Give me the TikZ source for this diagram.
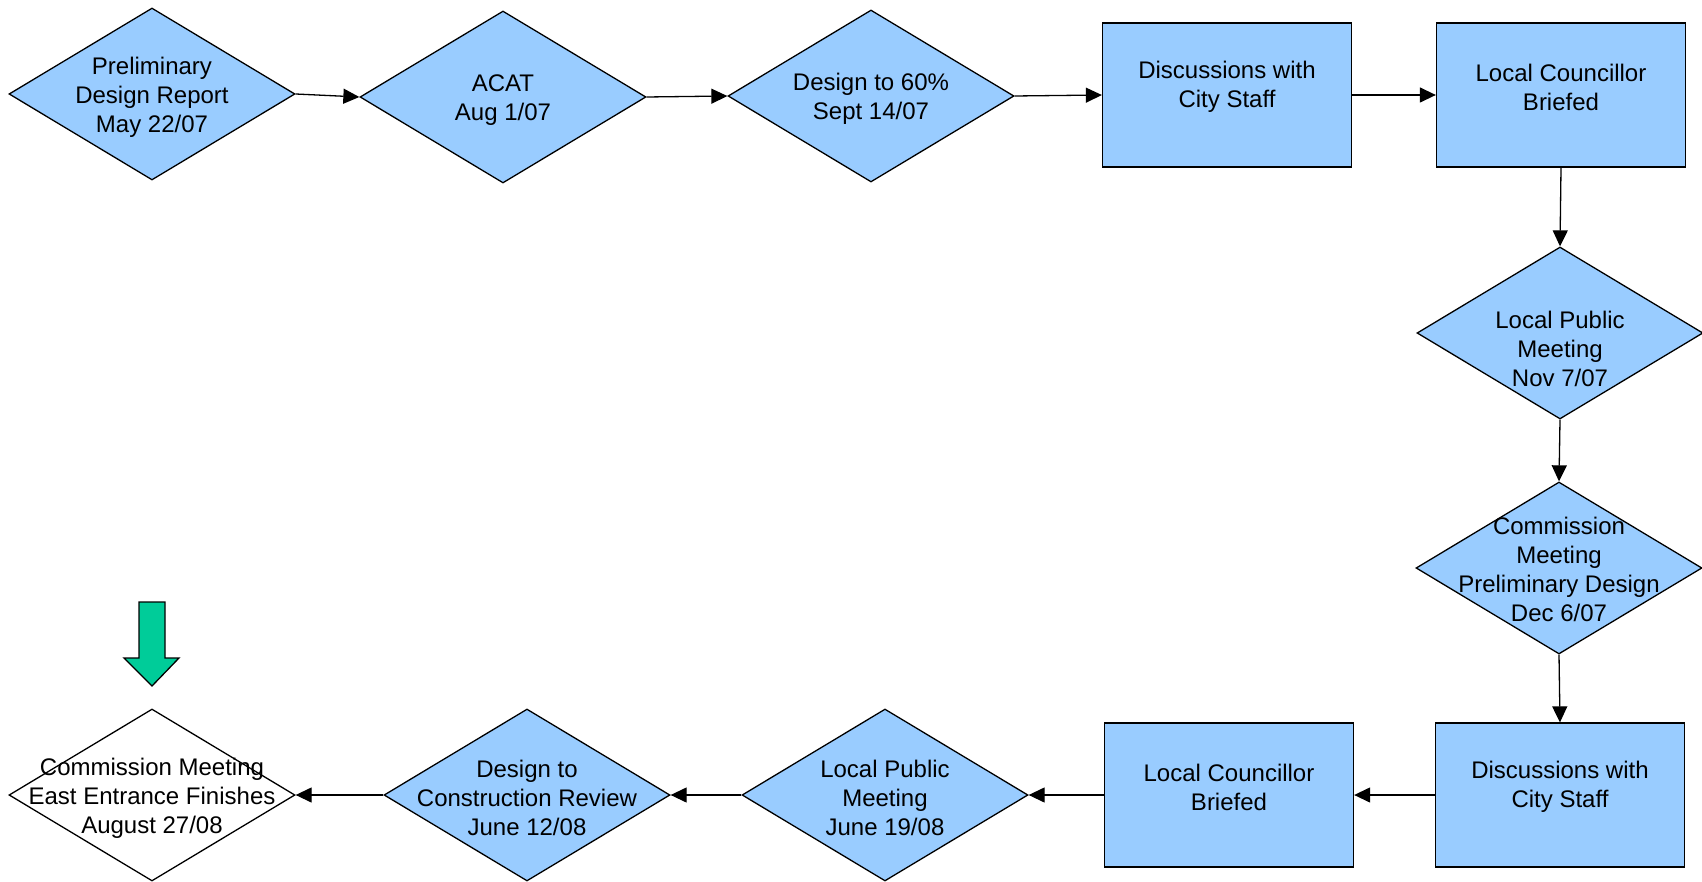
\documentclass[tikz,border=0pt]{standalone}
\usepackage{fontspec}
\setmainfont{Liberation Sans}
\usetikzlibrary{shapes.geometric,arrows.meta}
\definecolor{stepblue}{HTML}{99CCFF}
\definecolor{markgreen}{HTML}{00CC99}
\tikzset{
  dia/.style={diamond, draw, fill=stepblue, line width=1.3pt, inner sep=0pt,
    minimum width=286pt, minimum height=172pt},
  box/.style={rectangle, draw, fill=stepblue, line width=1.3pt, inner sep=0pt,
    minimum width=249pt, minimum height=144pt},
  txt/.style={align=center, font=\fontsize{24}{29}\selectfont, inner sep=0pt, yshift=-3pt},
  link/.style={line width=1.3pt, -{Triangle[length=16pt,width=15pt]}}
}
\begin{document}
\begin{tikzpicture}[x=1pt, y=-1pt]
        \useasboundingbox (0,0) rectangle (1702,882);
        % top row
        \node[dia, label={[txt]center:{Preliminary\\Design Report\\May 22/07}}] (d1) at (152, 94) {};
        \node[dia, label={[txt]center:{ACAT\\Aug 1/07}}] (d2) at (503, 97) {};
        \node[dia, label={[txt]center:{Design to 60\%\\Sept 14/07}}] (d3) at (871, 96) {};
        \node[box, label={[txt,yshift=11pt]center:{Discussions with\\City Staff}}] (r1) at (1227, 95) {};
        \node[box, label={[txt,yshift=11pt]center:{Local Councillor\\Briefed}}] (r2) at (1561, 95) {};
        % right column
        \node[dia, label={[txt,yshift=-13pt]center:{Local Public\\Meeting\\Nov 7/07}}] (d4) at (1560, 333) {};
        \node[dia, label={[txt,yshift=1.5pt]center:{Commission\\Meeting\\Preliminary Design\\Dec 6/07}}] (d5) at (1559, 568) {};
        % bottom row
        \node[box, label={[txt,yshift=11pt]center:{Discussions with\\City Staff}}] (r3) at (1560, 795) {};
        \node[box, label={[txt,yshift=11pt]center:{Local Councillor\\Briefed}}] (r4) at (1229, 795) {};
        \node[dia, label={[txt]center:{Local Public\\Meeting\\June 19/08}}] (d6) at (885, 795) {};
        \node[dia, label={[txt]center:{Design to\\Construction Review\\June 12/08}}] (d7) at (527, 795) {};
        \node[dia, fill=white, label={[txt]center:{Commission Meeting\\East Entrance Finishes\\August 27/08}}] (d8) at (152, 795) {};
        \draw[link] (d1.east)--(d2.west);
        \draw[link] (d2.east)--(d3.west);
        \draw[link] (d3.east)--(r1.west);
        \draw[link] (r1.east)--(r2.west);
        \draw[link] (r2.south)--(d4.north);
        \draw[link] (d4.south)--(d5.north);
        \draw[link] (d5.south)--(r3.north);
        \draw[link] (r3.west)--(r4.east);
        \draw[link] (r4.west)--(d6.east);
        \draw[link] (d6.west)--(d7.east);
        \draw[link] (d7.west)--(d8.east);
        % marker
        \filldraw[fill=markgreen, line width=1.3pt] (139,602)--(165,602)--(165,658)--(179,658)
            --(152,686)--(124,658)--(139,658)--cycle;
    \end{tikzpicture}
\end{document}
